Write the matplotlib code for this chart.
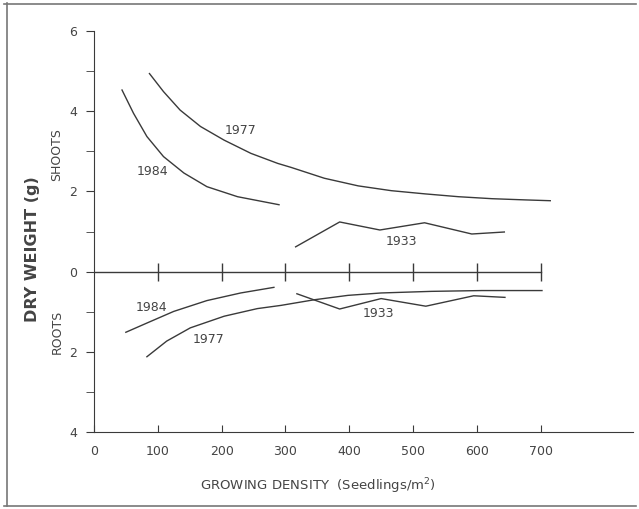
import matplotlib.pyplot as plt
from matplotlib.lines import Line2D

# lecture des courbes (densité en plants/m2, poids sec en g ; racines en négatif)
shoots_1977_x = [87, 109, 135, 167, 204, 246, 288, 309, 361, 414, 466, 519, 571, 624, 676, 715]
shoots_1977_y = [4.94, 4.49, 4.03, 3.62, 3.28, 2.95, 2.70, 2.60, 2.33, 2.14, 2.02, 1.94, 1.87, 1.82, 1.79, 1.77]
shoots_1984_x = [44, 62, 83, 109, 141, 177, 225, 290]
shoots_1984_y = [4.53, 3.95, 3.37, 2.87, 2.46, 2.12, 1.87, 1.67]
shoots_1933_x = [316, 385, 448, 518, 592, 643]
shoots_1933_y = [0.62, 1.24, 1.04, 1.22, 0.94, 0.99]

roots_1984_x = [50, 83, 125, 177, 230, 282]
roots_1984_y = [-1.51, -1.28, -0.99, -0.72, -0.53, -0.39]
roots_1977_x = [83, 114, 151, 204, 256, 293, 345, 398, 450, 529, 608, 702]
roots_1977_y = [-2.12, -1.73, -1.40, -1.11, -0.92, -0.84, -0.70, -0.59, -0.53, -0.49, -0.47, -0.47]
roots_1933_x = [318, 385, 450, 520, 595, 644]
roots_1933_y = [-0.55, -0.93, -0.67, -0.86, -0.60, -0.64]

x_ticks = [0, 100, 200, 300, 400, 500, 600, 700]
y_ticks = [-4, -2, 0, 2, 4, 6]
y_labels = ["4", "2", "0", "2", "4", "6"]

ink = "#3a3a3a"
txt = "#444444"

fig = plt.figure(figsize=(6.39, 5.09), dpi=100)
ax = fig.add_axes([0.147, 0.151, 0.844, 0.788])

for xs, ys in [(shoots_1977_x, shoots_1977_y), (shoots_1984_x, shoots_1984_y),
               (shoots_1933_x, shoots_1933_y), (roots_1984_x, roots_1984_y),
               (roots_1977_x, roots_1977_y), (roots_1933_x, roots_1933_y)]:
    ax.plot(xs, ys, color=ink, lw=1.0, solid_joinstyle="round")

# axe du zéro avec ses graduations traversantes
ax.plot([0, 700], [0, 0], color=ink, lw=1.0)
ax.plot(x_ticks[1:], [0] * 7, ls="none", marker="|", ms=13, mew=1.0, color=ink)

ax.set_xlim(0, 845)
ax.set_ylim(-4, 6)
ax.spines["top"].set_visible(False)
ax.spines["right"].set_visible(False)
ax.spines["left"].set_color(ink)
ax.spines["bottom"].set_color(ink)

ax.set_xticks(x_ticks)
ax.set_xticklabels([str(v) for v in x_ticks])
ax.tick_params(axis="x", direction="in", length=5, color=ink, labelcolor=txt,
               labelsize=9, pad=9)
ax.set_yticks(y_ticks)
ax.set_yticklabels(y_labels)
ax.set_yticks([-3, -1, 1, 3, 5], minor=True)
ax.tick_params(axis="y", which="both", direction="out", length=6, color=ink,
               labelcolor=txt, labelsize=9, pad=6)

# étiquettes des courbes
ax.text(229, 3.53, "1977", fontsize=9, color=txt, ha="center", va="center")
ax.text(91, 2.49, "1984", fontsize=9, color=txt, ha="center", va="center")
ax.text(481, 0.75, "1933", fontsize=9, color=txt, ha="center", va="center")
ax.text(90, -0.90, "1984", fontsize=9, color=txt, ha="center", va="center")
ax.text(179, -1.69, "1977", fontsize=9, color=txt, ha="center", va="center")
ax.text(445, -1.05, "1933", fontsize=9, color=txt, ha="center", va="center")

fig.text(57 / 639, 1 - 155 / 509, "SHOOTS", rotation=90, fontsize=9,
         color=txt, ha="center", va="center")
fig.text(57 / 639, 1 - 332 / 509, "ROOTS", rotation=90, fontsize=9,
         color=txt, ha="center", va="center")
fig.text(33 / 639, 1 - 249 / 509, "DRY WEIGHT (g)", rotation=90, fontsize=11.5,
         color=txt, ha="center", va="center", fontweight="bold")
fig.text(318 / 639, 1 - 486 / 509, "GROWING DENSITY  (Seedlings/m$^2$)",
         fontsize=9.5, color=txt, ha="center", va="center")

# cadre de la page
for xs, ys in [([7, 7], [3, 506]), ([4, 636], [4, 4]), ([4, 636], [506, 506])]:
    fig.add_artist(Line2D([x / 639 for x in xs], [1 - y / 509 for y in ys],
                          color="#777777", lw=1.2))

fig.savefig("out.png", dpi=100)
